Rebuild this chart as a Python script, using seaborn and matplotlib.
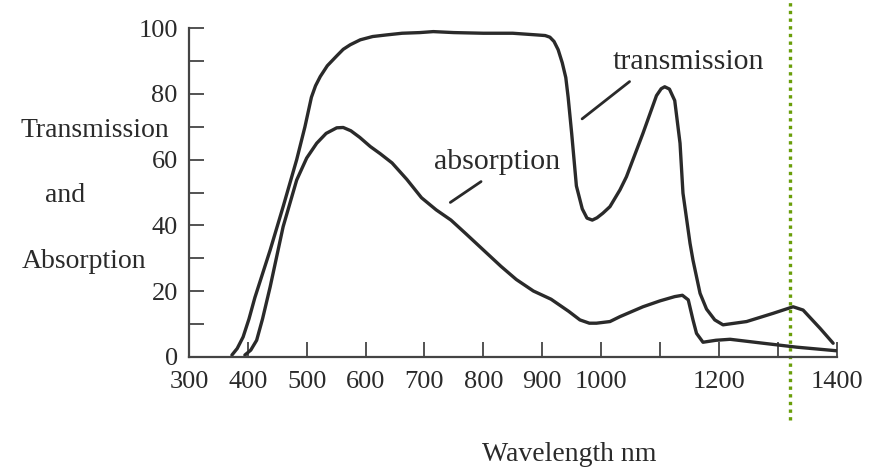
import numpy as np
import pandas as pd
import seaborn as sns
import matplotlib.pyplot as plt

# curves (wavelength in nm, percent)
trans_nm = [373, 382, 392, 402, 412, 438, 460, 483, 497, 508, 515, 523, 535, 551,
            562, 574, 591, 612, 636, 662, 692, 715, 750, 800, 850, 890, 905, 913,
            920, 927, 934, 940, 944, 950, 958, 968, 976, 985, 993, 1003, 1015,
            1032, 1043, 1071, 1094, 1102, 1108, 1116, 1125, 1134, 1139, 1151,
            1156, 1168, 1179, 1193, 1207, 1247, 1292, 1326, 1343, 1372, 1394]
trans_val = [0.5, 2.5, 6, 11.5, 18, 32.5, 45.7, 60, 70, 79, 82.5, 85.3, 88.6,
             91.6, 93.6, 95, 96.5, 97.5, 98, 98.5, 98.7, 99, 98.7, 98.5, 98.5, 98,
             97.8, 97.3, 96, 93.5, 89.5, 85, 79, 68, 52, 45, 42.2, 41.6, 42.3,
             43.7, 45.7, 50.8, 54.8, 68, 79.5, 81.6, 82.2, 81.5, 78, 65, 49.8,
             34.5, 29.4, 19.3, 14.5, 11.2, 9.7, 10.7, 13.2, 15.2, 14.2, 8.6, 4.1]

absorb_nm = [395, 405, 415, 425, 438, 460, 483, 500, 517, 533, 551, 562, 575, 590,
             608, 625, 645, 670, 695, 720, 745, 770, 800, 830, 856, 885, 915, 945,
             964, 980, 992, 1015, 1032, 1071, 1100, 1125, 1138, 1148, 1156, 1162,
             1173, 1195, 1219, 1275, 1332, 1400]
absorb_val = [0.5, 2, 5, 11.5, 21.3, 39.6, 53.8, 60.5, 65, 68, 69.7, 69.8, 68.8,
              66.8, 64, 61.8, 59, 54, 48.4, 44.7, 41.6, 37.5, 32.5, 27.5, 23.5,
              20, 17.5, 13.8, 11.2, 10.2, 10.2, 10.7, 12.2, 15.2, 17, 18.3, 18.7,
              17.3, 11.2, 7.1, 4.4, 5, 5.3, 4.1, 2.9, 1.8]

x_ticks = [300, 400, 500, 600, 700, 800, 900, 1000, 1100, 1200, 1300, 1400]
x_labels = ["300", "400", "500", "600", "700", "800", "900", "1000", "", "1200", "", "1400"]
y_ticks = [0, 10, 20, 30, 40, 50, 60, 70, 80, 90, 100]
y_labels = ["0", "", "20", "", "40", "", "60", "", "80", "", "100"]

marker_nm = 1321

sns.set_style("ticks")
plt.rcParams['font.family'] = ['Liberation Serif', 'DejaVu Serif']
ink = "#2a2a2a"

fig = plt.figure(figsize=(8.82, 4.72), dpi=100)
ax = fig.add_axes([0.2142, 0.2443, 0.7344, 0.6957])

t = pd.DataFrame({"nm": trans_nm, "val": trans_val})
a = pd.DataFrame({"nm": absorb_nm, "val": absorb_val})
sns.lineplot(data=t, x="nm", y="val", ax=ax, color=ink, lw=2.4, sort=False)
sns.lineplot(data=a, x="nm", y="val", ax=ax, color=ink, lw=2.4, sort=False)
for ln in ax.lines:
    ln.set_solid_joinstyle("round")

ax.set_xlim(300, 1400)
ax.set_ylim(0, 100)
ax.set_xticks(x_ticks)
ax.set_xticklabels(x_labels)
ax.set_yticks(y_ticks)
ax.set_yticklabels(y_labels)
ax.tick_params(axis="both", direction="in", length=11, width=1.3, color="#444444",
               labelsize=19, labelcolor=ink)
ax.tick_params(axis="x", pad=10)
ax.tick_params(axis="y", pad=8)
for s in ["top", "right"]:
    ax.spines[s].set_visible(False)
for s in ["left", "bottom"]:
    ax.spines[s].set_color("#444444")
    ax.spines[s].set_linewidth(1.6)

# labels
ax.set_xlabel("Wavelength nm", fontsize=20, color=ink, va="baseline")
ax.xaxis.set_label_coords(0.5868, -0.3176)
ax.set_ylabel("")
fig.text(0.1077, 1 - 137 / 472, "Transmission", ha="center", va="baseline", fontsize=20, color=ink)
fig.text(0.0737, 1 - 202 / 472, "and", ha="center", va="baseline", fontsize=20, color=ink)
fig.text(0.0952, 1 - 268 / 472, "Absorption", ha="center", va="baseline", fontsize=20, color=ink)

# curve annotations with leader lines
ax.text(1149, 89.7, "transmission", ha="center", va="center", fontsize=21.5, color=ink)
ax.annotate("", xy=(964, 71.9), xytext=(1052, 84.3),
            arrowprops=dict(arrowstyle="-", color=ink, lw=2))
ax.text(823, 59.3, "absorption", ha="center", va="center", fontsize=21.5, color=ink)
ax.annotate("", xy=(740, 46.5), xytext=(800, 53.8),
            arrowprops=dict(arrowstyle="-", color=ink, lw=2))

# green dotted marker line
ax.axvline(marker_nm, ymin=-0.193, ymax=1.09, clip_on=False, color="#6a9e0a",
           lw=2.4, dashes=(1, 1.3), solid_capstyle="butt", dash_capstyle="butt")

fig.savefig("out.png", dpi=100)
